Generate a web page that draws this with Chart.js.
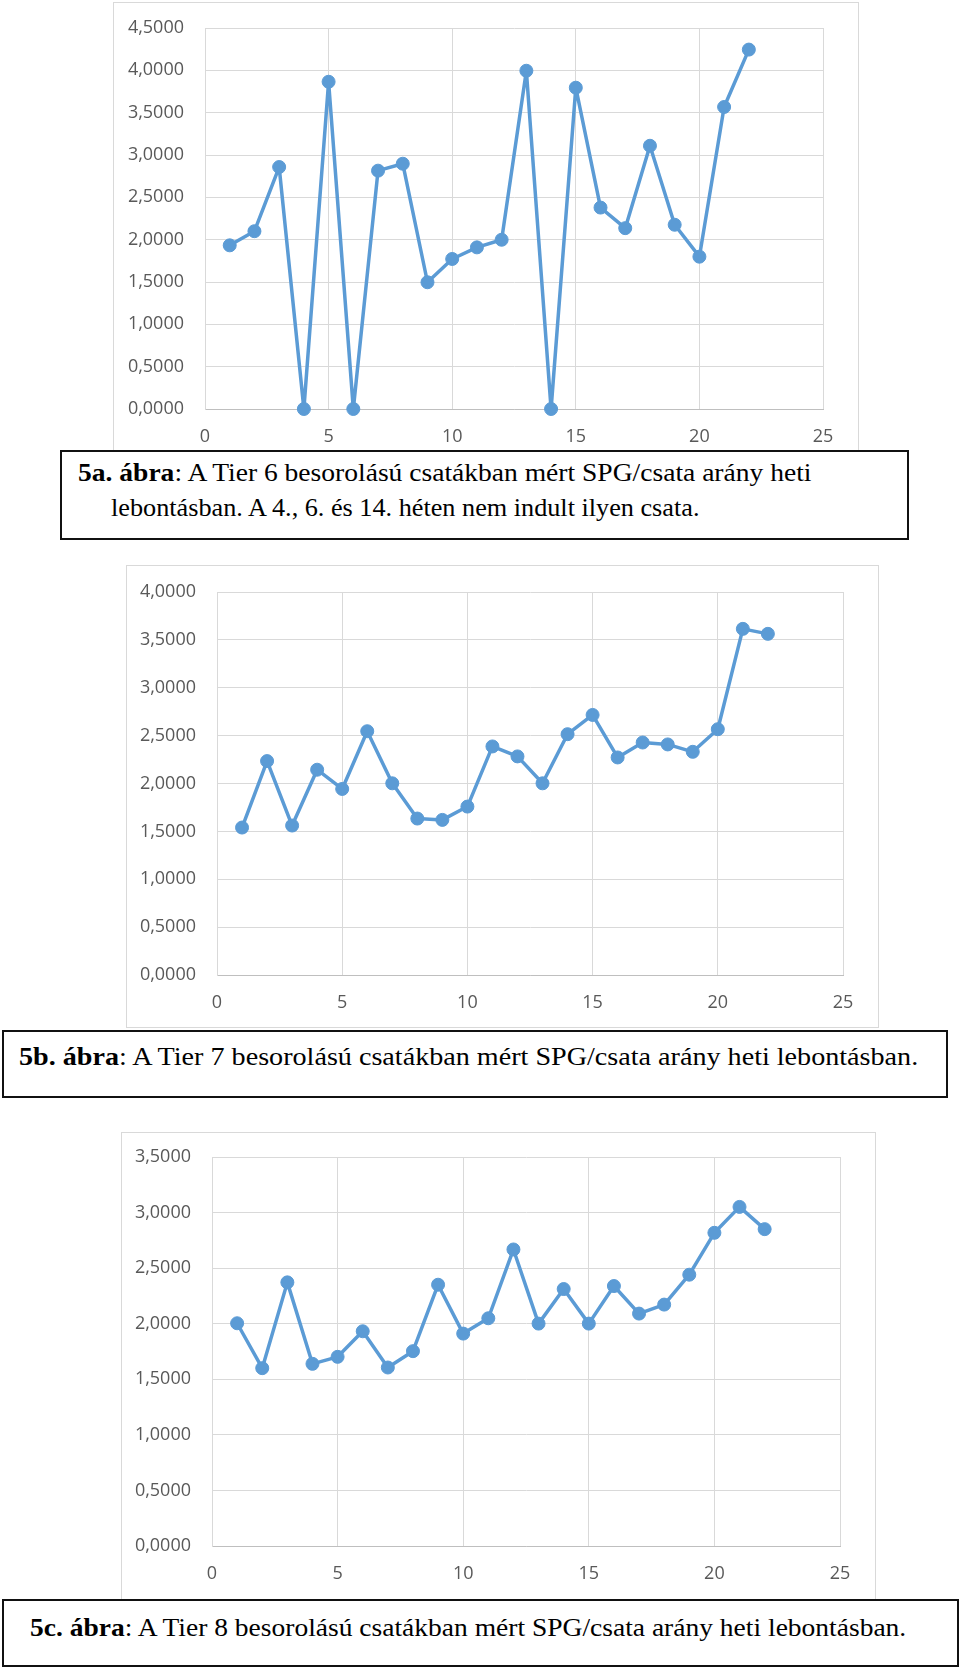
<!DOCTYPE html>
<html>
<head>
<meta charset="utf-8">
<script src="https://cdn.jsdelivr.net/npm/chart.js@4.4.1/dist/chart.umd.min.js"></script>
<style>
  body { margin: 0; background: #fff; width: 960px; height: 1670px; position: relative; overflow: hidden; }
  .frame { position: absolute; border: 1px solid #d9d9d9; box-sizing: border-box; }
  canvas { position: absolute; }
  .cap { position: absolute; border: 2px solid #111; background: #fff; box-sizing: border-box; z-index: 2; }
  .line { position: absolute; white-space: nowrap; font-family: "Liberation Serif", "Times New Roman", serif;
          font-size: 26px; color: #000; transform-origin: 0 0; z-index: 3; line-height: 1; }
</style>
</head>
<body>

<div class="frame" style="left:113px;top:2px;width:746px;height:460px"></div>
<canvas id="chartA" style="left:113px;top:2px"></canvas>
<div class="cap" style="left:60px;top:450px;width:849px;height:90px"></div>
<div class="line" data-w="734" style="left:78px;top:460px"><b>5a. ábra</b>: A Tier 6 besorolású csatákban mért SPG/csata arány heti</div>
<div class="line" data-w="588" style="left:111px;top:495px">lebontásban. A 4., 6. és 14. héten nem indult ilyen csata.</div>

<div class="frame" style="left:126px;top:565px;width:753px;height:463px"></div>
<canvas id="chartB" style="left:126px;top:565px"></canvas>
<div class="cap" style="left:2px;top:1030px;width:946px;height:68px"></div>
<div class="line" data-w="899" style="left:19px;top:1044px"><b>5b. ábra</b>: A Tier 7 besorolású csatákban mért SPG/csata arány heti lebontásban.</div>

<div class="frame" style="left:121px;top:1132px;width:755px;height:480px"></div>
<canvas id="chartC" style="left:121px;top:1132px"></canvas>
<div class="cap" style="left:2px;top:1599px;width:957px;height:68px"></div>
<div class="line" data-w="876" style="left:30px;top:1615px"><b>5c. ábra</b>: A Tier 8 besorolású csatákban mért SPG/csata arány heti lebontásban.</div>

<script>
// weeks 1..22
const weeks = [1, 2, 3, 4, 5, 6, 7, 8, 9, 10, 11, 12, 13, 14, 15, 16, 17, 18, 19, 20, 21, 22];

// SPG / battle ratio per week
const tier6 = [1.933, 2.100, 2.858, 0, 3.865, 0, 2.815, 2.897, 1.497, 1.772, 1.909,
               1.999, 3.995, 0, 3.795, 2.379, 2.136, 3.109, 2.176, 1.799, 3.567, 4.245];
const tier7 = [1.540, 2.234, 1.561, 2.144, 1.943, 2.546, 2.002, 1.634, 1.620, 1.759, 2.387,
               2.283, 2.002, 2.515, 2.716, 2.272, 2.428, 2.408, 2.331, 2.567, 3.615, 3.563];
const tier8 = [2.004, 1.600, 2.372, 1.639, 1.702, 1.932, 1.606, 1.753, 2.351, 1.911, 2.049,
               2.668, 2.001, 2.312, 2.001, 2.339, 2.091, 2.172, 2.441, 2.818, 3.051, 2.851];

const yMaxA = 4.5, yMaxB = 4.0, yMaxC = 3.5;
const xTicksMax = 25;

const blue = '#5b9bd5';
const gridColor = '#d9d9d9';
const tickColor = '#595959';

function makeChart(id, values, yMax, w, h, plot) {
  const cv = document.getElementById(id);
  cv.width = w;
  cv.height = h;
  const xLabelH = 40;
  return new Chart(cv, {
    type: 'scatter',
    data: {
      datasets: [{
        data: weeks.map((wk, i) => ({ x: wk, y: values[i] })),
        showLine: true,
        borderColor: blue,
        backgroundColor: blue,
        borderWidth: 3.5,
        borderJoinStyle: 'round',
        pointRadius: 6.5,
        pointBorderWidth: 1,
        pointBorderColor: blue,
        pointBackgroundColor: blue,
        clip: false
      }]
    },
    options: {
      responsive: false,
      animation: false,
      devicePixelRatio: 1,
      layout: { padding: { left: 0, top: plot.top, right: w - plot.right, bottom: h - plot.bottom - xLabelH } },
      plugins: { legend: { display: false }, tooltip: { enabled: false } },
      scales: {
        // label gaps come from invisible tick marks; ticks.padding would also push the plot edges in
        x: {
          type: 'linear', min: 0, max: xTicksMax,
          ticks: { stepSize: 5, color: tickColor, padding: 0, font: { family: 'Open Sans', size: 18 } },
          grid: { color: gridColor, tickLength: 17, tickColor: 'rgba(0,0,0,0)' },
          border: { color: '#bfbfbf' },
          afterFit: s => { s.height = xLabelH; }
        },
        y: {
          min: 0, max: yMax,
          ticks: {
            stepSize: 0.5, color: tickColor, padding: 0, font: { family: 'Open Sans', size: 18 },
            callback: v => v.toFixed(4).replace('.', ',')
          },
          grid: { color: gridColor, tickLength: 21, tickColor: 'rgba(0,0,0,0)' },
          border: { color: gridColor },
          afterFit: s => { s.width = plot.left; }
        }
      }
    }
  });
}

makeChart('chartA', tier6, yMaxA, 746, 448, { left: 92, right: 710, top: 26, bottom: 407 });
makeChart('chartB', tier7, yMaxB, 753, 462, { left: 91, right: 717, top: 27, bottom: 410 });
makeChart('chartC', tier8, yMaxC, 755, 467, { left: 91, right: 719, top: 25, bottom: 414 });

// squeeze caption lines to the widths in the original scan
document.querySelectorAll('.line').forEach(el => {
  const target = +el.dataset.w;
  const k = target / el.offsetWidth;
  el.style.transform = 'scaleX(' + k + ')';
});
</script>
</body>
</html>
